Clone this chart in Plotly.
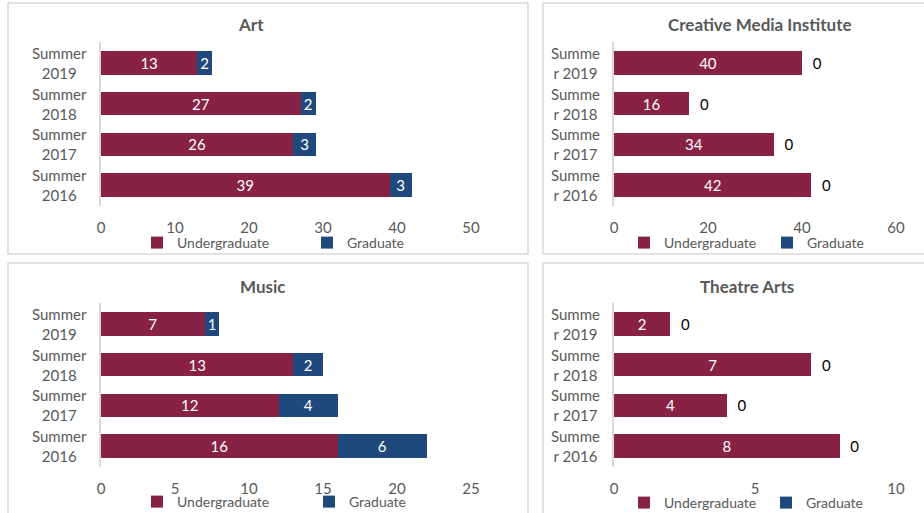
"""Summer enrollment by school: four stacked horizontal bar panels."""
import plotly.graph_objects as go

# the window is 924x513; the figure runs a little past the bottom edge,
# like the cropped panels of the original
W, H = 924, 540

terms = ["Summer 2016", "Summer 2017", "Summer 2018", "Summer 2019"]
terms_wrapped = ["Summer<br>2016", "Summer<br>2017", "Summer<br>2018", "Summer<br>2019"]
terms_narrow = ["Summe<br>r 2016", "Summe<br>r 2017", "Summe<br>r 2018", "Summe<br>r 2019"]

art_ug = [39, 26, 27, 13]
art_grad = [3, 3, 2, 2]
cmi_ug = [42, 34, 16, 40]
cmi_grad = [0, 0, 0, 0]
music_ug = [16, 12, 13, 7]
music_grad = [6, 4, 2, 1]
theatre_ug = [8, 4, 7, 2]
theatre_grad = [0, 0, 0, 0]

art_ticks = [0, 10, 20, 30, 40, 50]
cmi_ticks = [0, 20, 40, 60]
music_ticks = [0, 5, 10, 15, 20, 25]
theatre_ticks = [0, 5, 10]

UG_COLOR = "#872244"
GRAD_COLOR = "#1F497D"
TEXT = "#595959"
LINE = "#D9D9D9"
FONT = "Lato, 'Open Sans', sans-serif"


def px_x(p):
    return p / W


def px_y(p):
    return 1 - p / H


# panel geometry in pixels: axis left/right, axis top/bottom, title, legend, border
PANELS = [
    dict(name="Art", ug=art_ug, grad=art_grad, ticks=art_ticks, labels=terms_wrapped,
         ax=(101, 471), ay=(42, 206), title=(251, 25), leg=(137, 243), entry=125,
         box=(8, 3, 528, 254)),
    dict(name="Creative Media Institute", ug=cmi_ug, grad=cmi_grad, ticks=cmi_ticks,
         labels=terms_narrow, ax=(614, 896), ay=(42, 206), title=(760, 25),
         leg=(624, 243), entry=98, box=(543, 3, 1000, 254)),
    dict(name="Music", ug=music_ug, grad=music_grad, ticks=music_ticks, labels=terms_wrapped,
         ax=(101, 471), ay=(303, 467), title=(262, 286), leg=(137, 502), entry=127,
         box=(8, 263, 528, 560)),
    dict(name="Theatre Arts", ug=theatre_ug, grad=theatre_grad, ticks=theatre_ticks,
         labels=terms_narrow, ax=(614, 896), ay=(303, 467), title=(747, 286),
         leg=(624, 503), entry=97, box=(543, 263, 1000, 560)),
]

fig = go.Figure()
layout = dict(
    template="none",
    width=W, height=H, autosize=False,
    margin=dict(l=0, r=0, t=0, b=0, pad=0),
    paper_bgcolor="white", plot_bgcolor="white",
    barmode="stack", bargap=0.42,
    font=dict(family=FONT, color=TEXT, size=15),
    annotations=[], shapes=[],
)

for i, p in enumerate(PANELS):
    n = i + 1
    sfx = "" if n == 1 else str(n)
    leg = "legend" if n == 1 else f"legend{n}"
    grad_text = ["\u00a0\u00a0%{x}" if g == 0 else "%{x}" for g in p["grad"]]
    grad_pos = ["outside" if g == 0 else "inside" for g in p["grad"]]

    fig.add_trace(go.Bar(
        name="Undergraduate", y=terms, x=p["ug"], orientation="h",
        xaxis=f"x{sfx}", yaxis=f"y{sfx}", legend=leg,
        marker_color=UG_COLOR, marker_line_width=0,
        texttemplate="%{x}", textposition="inside", insidetextanchor="middle",
        textangle=0, constraintext="none", insidetextfont=dict(color="white", size=15),
    ))
    fig.add_trace(go.Bar(
        name="Graduate", y=terms, x=p["grad"], orientation="h",
        xaxis=f"x{sfx}", yaxis=f"y{sfx}", legend=leg,
        marker_color=GRAD_COLOR, marker_line_width=0,
        texttemplate=grad_text, textposition=grad_pos, insidetextanchor="middle",
        textangle=0, constraintext="none", cliponaxis=False,
        insidetextfont=dict(color="white", size=15),
        outsidetextfont=dict(color="black", size=15),
    ))

    layout[f"xaxis{sfx}"] = dict(
        domain=[px_x(p["ax"][0]), px_x(p["ax"][1])],
        range=[0, p["ticks"][-1]], tickvals=p["ticks"],
        showgrid=False, zeroline=False, showline=False, automargin=False,
        ticks="outside", ticklen=8, tickcolor="rgba(0,0,0,0)",
        tickfont=dict(size=15, color=TEXT), anchor=f"y{sfx}", fixedrange=True,
    )
    layout[f"yaxis{sfx}"] = dict(
        domain=[px_y(p["ay"][1]), px_y(p["ay"][0])],
        categoryorder="array", categoryarray=terms, automargin=False,
        showticklabels=False, showgrid=False, zeroline=False, ticks="",
        showline=True, linecolor=LINE, linewidth=2,
        anchor=f"x{sfx}", fixedrange=True,
    )
    layout[leg] = dict(
        orientation="h", x=px_x(p["leg"][0]), y=px_y(p["leg"][1]),
        xanchor="left", yanchor="middle", entrywidth=p["entry"],
        font=dict(size=14, color=TEXT), bgcolor="rgba(0,0,0,0)",
        borderwidth=0, traceorder="normal",
    )

    # category labels, centred two-line text like the original
    for term, lab in zip(terms, p["labels"]):
        layout["annotations"].append(dict(
            text=lab, x=px_x(p["ax"][0] - 12), xref="paper", y=term, yref=f"y{sfx}",
            xanchor="right", yanchor="middle", align="center", showarrow=False,
            font=dict(size=15, color=TEXT),
        ))
    layout["annotations"].append(dict(
        text=f"<b>{p['name']}</b>", x=px_x(p["title"][0]), y=px_y(p["title"][1]),
        xref="paper", yref="paper", xanchor="center", yanchor="middle",
        showarrow=False, font=dict(size=17, color=TEXT),
    ))
    x0, y0, x1, y1 = p["box"]
    layout["shapes"].append(dict(
        type="rect", xref="paper", yref="paper",
        x0=px_x(x0), x1=px_x(x1), y0=px_y(y1), y1=px_y(y0),
        line=dict(color=LINE, width=1.5), fillcolor="rgba(0,0,0,0)", layer="below",
    ))

fig.update_layout(**layout)
# drop the page's default 8px body margin and scrollbars so the figure sits at the corner
fig.write_html(
    "out.html",
    config={"displayModeBar": False},
    post_script="document.body.style.margin = '0'; document.body.style.overflow = 'hidden';",
)
